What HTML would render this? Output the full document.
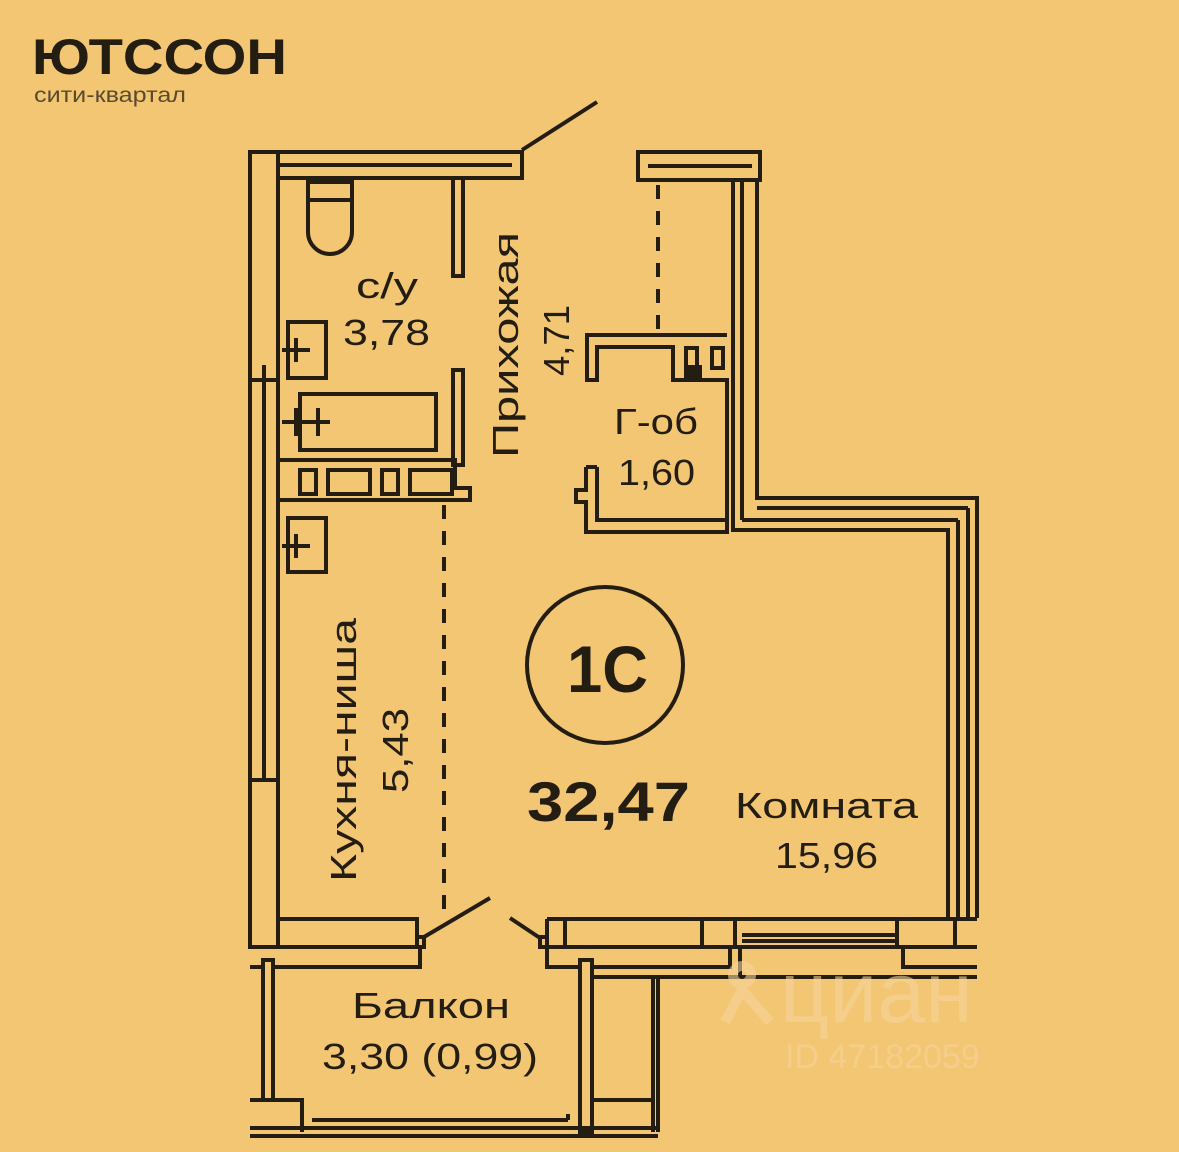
<!DOCTYPE html>
<html><head><meta charset="utf-8"><style>
html,body{margin:0;padding:0;background:#f3c673;}
svg{display:block}
text{font-family:"Liberation Sans","DejaVu Sans",sans-serif;fill:#231d12}
</style></head><body>
<svg width="1179" height="1152" viewBox="0 0 1179 1152" xmlns="http://www.w3.org/2000/svg">
<rect width="1179" height="1152" fill="#f3c673"/>
<text x="32" y="74" font-size="50" font-weight="bold" textLength="255" lengthAdjust="spacingAndGlyphs">ЮТССОН</text>
<text x="34" y="102" font-size="21" style="fill:#5a4a2c" textLength="152" lengthAdjust="spacingAndGlyphs">сити-квартал</text>
<g fill="none" stroke="#231d12" stroke-width="4">
<rect x="250" y="152" width="28" height="795"/>
<line x1="264" y1="365" x2="264" y2="780"/>
<line x1="250" y1="380" x2="278" y2="380"/>
<line x1="250" y1="780" x2="278" y2="780"/>
<path d="M250 152 H522 V178 H278"/>
<line x1="280" y1="165" x2="512" y2="165"/>
<line x1="522" y1="150" x2="597" y2="102"/>
<rect x="453" y="178" width="10" height="98"/>
<path d="M308 182 V232 A22 22 0 0 0 352 232 V182 Z M308 200 H352"/>
<rect x="288" y="322" width="38" height="56"/>
<path d="M282 350 H310 M296 338 V362"/>
<rect x="288" y="518" width="38" height="54"/>
<path d="M282 546 H310 M296 534 V558"/>
<rect x="453" y="370" width="10" height="95"/>
<rect x="300" y="394" width="136" height="56"/>
<path d="M282 422 H330 M296 408 V436 M318 408 V436"/>
<path d="M278 460 H455 V488 H470 V500 H278"/>
<rect x="300" y="470" width="16" height="24"/>
<rect x="328" y="470" width="42" height="24"/>
<rect x="382" y="470" width="16" height="24"/>
<rect x="410" y="470" width="42" height="24"/>
<line x1="444" y1="505" x2="444" y2="920" stroke-dasharray="14 12"/>
<path d="M638 152 H760 V180 H638 Z"/>
<line x1="648" y1="166" x2="752" y2="166"/>
<line x1="658" y1="185" x2="658" y2="332" stroke-dasharray="14 12"/>
<path d="M733 180 V530 H948 V918"/>
<path d="M757 180 V498 H977 V918"/>
<line x1="742" y1="180" x2="742" y2="520"/>
<line x1="742" y1="520" x2="958" y2="520"/>
<line x1="958" y1="520" x2="958" y2="918"/>
<line x1="968" y1="508" x2="968" y2="918"/>
<line x1="757" y1="508" x2="968" y2="508"/>
<path d="M727 335 H587 V380 H597 V347 H673 V380 H727 V520"/>
<rect x="686" y="348" width="11" height="20"/>
<rect x="712" y="348" width="11" height="20"/>
<rect x="686" y="367" width="14" height="9" fill="#231d12"/>
<path d="M586 467 V490 H576 V502 H586 V532 H727 V520 M597 467 V520 H727"/>
<path d="M586 467 H597"/>
<path d="M278 919 H417 V947 H250"/>
<rect x="417" y="937" width="7" height="10"/>
<line x1="424" y1="937" x2="490" y2="898"/>
<line x1="510" y1="918" x2="540" y2="938"/>
<path d="M420 947 V967 H273"/>
<rect x="540" y="937" width="7" height="10"/>
<path d="M547 919 H977 M547 947 H977 M547 919 V947"/>
<line x1="565" y1="919" x2="565" y2="947"/>
<line x1="702" y1="919" x2="702" y2="947"/>
<line x1="735" y1="919" x2="735" y2="947"/>
<line x1="897" y1="919" x2="897" y2="947"/>
<line x1="955" y1="919" x2="955" y2="947"/>
<line x1="742" y1="935" x2="897" y2="935"/>
<line x1="742" y1="941" x2="897" y2="941"/>
<path d="M547 947 V967 H580"/>
<path d="M592 967 H730 V947 M740 947 V977 M903 947 V967 H977"/>
<line x1="592" y1="977" x2="977" y2="977"/>
<rect x="263" y="960" width="10" height="140"/>
<path d="M250 967 H263 M250 1100 H263"/>
<path d="M273 1100 H302 V1132"/>
<rect x="580" y="960" width="12" height="172"/>
<path d="M592 1100 H655"/>
<path d="M653 977 V1132 M658 977 V1132"/>
<path d="M250 1128 H658 M250 1136 H658"/>
<line x1="312" y1="1120" x2="568" y2="1120"/>
<line x1="568" y1="1114" x2="568" y2="1120"/>
<circle cx="605" cy="665" r="78"/>
</g>
<g stroke="#f6d49a" stroke-width="10" fill="none" opacity="0.6">
<circle cx="742" cy="975" r="9"/>
<path d="M725 1022 L742 990 L770 1022"/>
</g>
<text x="567" y="692" font-size="66" font-weight="bold" textLength="81" lengthAdjust="spacingAndGlyphs">1С</text>
<text x="527" y="821" font-size="56" font-weight="bold" textLength="163" lengthAdjust="spacingAndGlyphs">32,47</text>
<text x="735" y="818" font-size="36" textLength="183" lengthAdjust="spacingAndGlyphs">Комната</text>
<text x="775" y="868" font-size="36" textLength="103" lengthAdjust="spacingAndGlyphs">15,96</text>
<text x="356" y="298" font-size="36" textLength="62" lengthAdjust="spacingAndGlyphs">с/у</text>
<text x="343" y="345" font-size="36" textLength="87" lengthAdjust="spacingAndGlyphs">3,78</text>
<text x="614" y="434" font-size="36" textLength="84" lengthAdjust="spacingAndGlyphs">Г-об</text>
<text x="618" y="485" font-size="36" textLength="77" lengthAdjust="spacingAndGlyphs">1,60</text>
<text transform="translate(518,458) rotate(-90)" font-size="36" textLength="226" lengthAdjust="spacingAndGlyphs">Прихожая</text>
<text transform="translate(569,376) rotate(-90)" font-size="36" textLength="71" lengthAdjust="spacingAndGlyphs">4,71</text>
<text transform="translate(356,882) rotate(-90)" font-size="36" textLength="264" lengthAdjust="spacingAndGlyphs">Кухня-ниша</text>
<text transform="translate(408,793) rotate(-90)" font-size="36" textLength="85" lengthAdjust="spacingAndGlyphs">5,43</text>
<text x="352" y="1018" font-size="36" textLength="158" lengthAdjust="spacingAndGlyphs">Балкон</text>
<text x="322" y="1069" font-size="36" textLength="216" lengthAdjust="spacingAndGlyphs">3,30 (0,99)</text>
<text x="780" y="1022" font-size="86" style="fill:#f6d49a" opacity="0.6">циан</text>
<text x="785" y="1068" font-size="34" style="fill:#f6d49a" opacity="0.6">ID 47182059</text>
</svg>
</body></html>
